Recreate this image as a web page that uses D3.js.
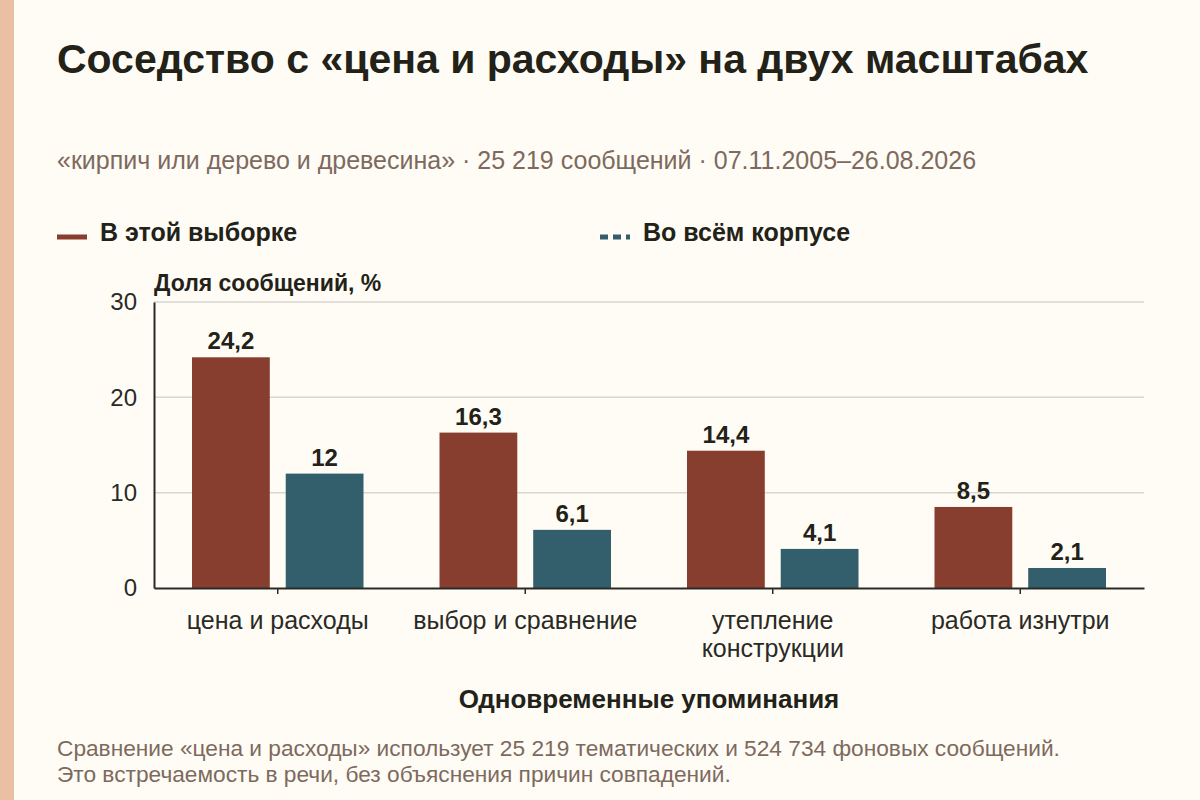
<!DOCTYPE html>
<html>
<head>
<meta charset="utf-8">
<script src="https://cdn.jsdelivr.net/npm/d3@7"></script>
<style>
  body { margin: 0; background: #fffcf5; }
  svg { display: block; font-family: "Liberation Sans", Arial, sans-serif; }
</style>
</head>
<body>
<div id="chart"></div>
<script>
// data
const categories = [["цена и расходы"], ["выбор и сравнение"], ["утепление", "конструкции"], ["работа изнутри"]];
const sampleValues = [24.2, 16.3, 14.4, 8.5];
const corpusValues = [12, 6.1, 4.1, 2.1];
const seriesNames = ["В этой выборке", "Во всём корпусе"];
const yTicks = [0, 10, 20, 30];

const W = 1200, H = 800;
const margin = { top: 302, right: 56, bottom: 212, left: 154 };
const width = W - margin.left - margin.right;
const height = H - margin.top - margin.bottom;

const colors = ["#873e2f", "#335e6c"];
const fmt = v => String(v).replace(".", ",");

const svg = d3.select("#chart").append("svg")
    .attr("width", W)
    .attr("height", H);

svg.append("rect").attr("width", W).attr("height", H).attr("fill", "#fffcf5");
svg.append("rect").attr("width", 14).attr("height", H).attr("fill", "#eabfa4");

// title + subtitle
svg.append("text")
    .attr("x", 57).attr("y", 73)
    .attr("font-size", 41).attr("font-weight", "bold").attr("fill", "#222219")
    .text("Соседство с «цена и расходы» на двух масштабах");

svg.append("text")
    .attr("x", 57).attr("y", 169)
    .attr("font-size", 25).attr("fill", "#7d6a5e")
    .text("«кирпич или дерево и древесина» · 25 219 сообщений · 07.11.2005–26.08.2026");

// legend
const legendX = [57, 600];
seriesNames.forEach((name, i) => {
    const g = svg.append("g").attr("transform", `translate(${legendX[i]},237)`);
    g.append("line")
        .attr("x1", 0).attr("x2", 30)
        .attr("stroke", colors[i]).attr("stroke-width", 5)
        .attr("stroke-dasharray", i === 1 ? "8,5" : null);
    g.append("text")
        .attr("x", 43).attr("y", 4)
        .attr("font-size", 25).attr("font-weight", "bold").attr("fill", "#222219")
        .text(name);
});

const chart = svg.append("g").attr("transform", `translate(${margin.left},${margin.top})`);

const x0 = d3.scaleBand().domain(d3.range(categories.length)).range([0, width]).paddingInner(0).paddingOuter(0);
const x1 = d3.scaleBand().domain([0, 1]).range([38, x0.bandwidth() - 38]).paddingInner(0.17);
const y = d3.scaleLinear().domain([0, 30]).range([height, 0]);

// grid
chart.append("g")
    .selectAll("line")
    .data(yTicks.filter(d => d > 0))
    .join("line")
    .attr("x1", 0).attr("x2", width)
    .attr("y1", d => y(d)).attr("y2", d => y(d))
    .attr("stroke", "#d9d6cf").attr("stroke-width", 1.5);

// y axis
const yAxis = chart.append("g")
    .call(d3.axisLeft(y).tickValues(yTicks).tickSize(0).tickPadding(17));
yAxis.select(".domain").attr("stroke", "#2a2a26").attr("stroke-width", 2);
yAxis.selectAll("text").attr("font-size", 24).attr("fill", "#2a2a26")
    .attr("font-family", "Liberation Sans, Arial, sans-serif");

chart.append("text")
    .attr("x", 0).attr("y", -11)
    .attr("font-size", 23).attr("font-weight", "bold").attr("fill", "#222219")
    .text("Доля сообщений, %");

// bars
const rows = categories.map((c, i) => [sampleValues[i], corpusValues[i]]);
const groups = chart.append("g").selectAll("g")
    .data(rows)
    .join("g")
    .attr("transform", (d, i) => `translate(${x0(i)},0)`);

groups.selectAll("rect")
    .data(d => d)
    .join("rect")
    .attr("x", (d, j) => x1(j))
    .attr("width", x1.bandwidth())
    .attr("y", d => y(d))
    .attr("height", d => height - y(d))
    .attr("fill", (d, j) => colors[j]);

groups.selectAll("text.val")
    .data(d => d)
    .join("text")
    .attr("class", "val")
    .attr("x", (d, j) => x1(j) + x1.bandwidth() / 2)
    .attr("y", d => y(d) - 8)
    .attr("text-anchor", "middle")
    .attr("font-size", 24).attr("font-weight", "bold").attr("fill", "#222219")
    .text(d => fmt(d));

// x axis
const xAxis = chart.append("g")
    .attr("transform", `translate(0,${height})`)
    .call(d3.axisBottom(x0).tickSize(6).tickSizeOuter(0).tickFormat(""));
xAxis.select(".domain").attr("stroke", "#2a2a26").attr("stroke-width", 2);
xAxis.selectAll(".tick line").attr("stroke", "#2a2a26").attr("stroke-width", 1.5);

xAxis.selectAll(".tick").each(function (d) {
    const t = d3.select(this).append("text")
        .attr("text-anchor", "middle")
        .attr("font-size", 25).attr("fill", "#2a2a26");
    categories[d].forEach((line, k) => {
        t.append("tspan").attr("x", 0).attr("y", 41 + k * 28).text(line);
    });
});

chart.append("text")
    .attr("x", width / 2).attr("y", 406)
    .attr("text-anchor", "middle")
    .attr("font-size", 26).attr("font-weight", "bold").attr("fill", "#222219")
    .text("Одновременные упоминания");

// footer
const notes = [
    "Сравнение «цена и расходы» использует 25 219 тематических и 524 734 фоновых сообщений.",
    "Это встречаемость в речи, без объяснения причин совпадений."
];
svg.append("g").selectAll("text")
    .data(notes)
    .join("text")
    .attr("x", 57).attr("y", (d, i) => 756 + i * 26)
    .attr("font-size", 22.7).attr("fill", "#7d6a5e")
    .text(d => d);
</script>
</body>
</html>
